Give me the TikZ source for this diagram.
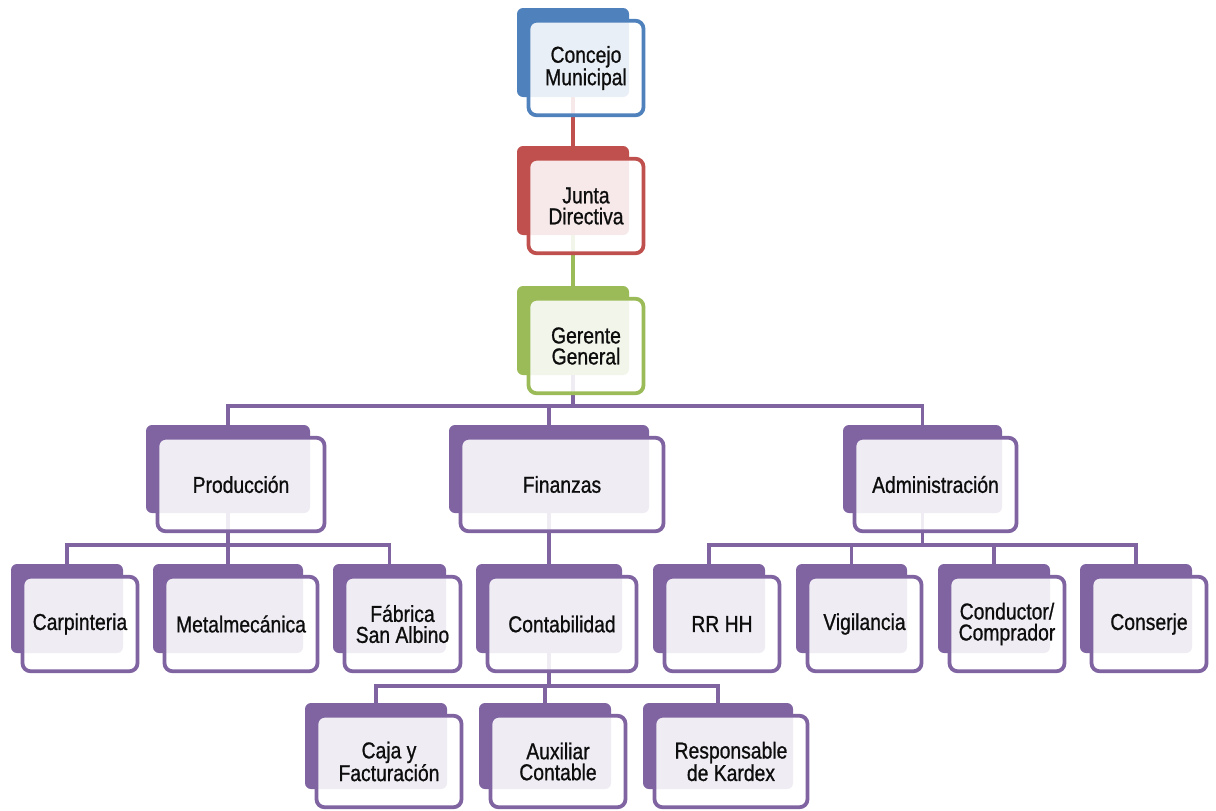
\documentclass[tikz,border=0pt]{standalone}
\usepackage{fontspec}
\setmainfont{Liberation Sans}[FakeStretch=0.84,FakeBold=0.9]
\usetikzlibrary{backgrounds}
\definecolor{cblue}{HTML}{4F81BD}
\definecolor{cred}{HTML}{C0504D}
\definecolor{cgreen}{HTML}{9BBB59}
\definecolor{cpurple}{HTML}{8064A2}
\definecolor{textcol}{HTML}{0D0D0D}
\tikzset{
  backbox/.style={rectangle, rounded corners=6pt, inner sep=0pt, outer sep=0pt},
  frontbox/.style={rectangle, rounded corners=8pt, line width=3.8pt, fill=white,
    fill opacity=0.88, text opacity=1, inner sep=0pt, outer sep=0pt, align=center,
    font=\fontsize{23}{21}\selectfont, text=textcol},
  conn/.style={line width=3.5pt},
}
\newcommand\orgbox[7]{%
  \node[backbox, fill=#6, minimum width={(#4-#2)*1pt}, minimum height={(#5-#3)*1pt}]
    (#1) at ({(#2+#4)/2},{(#3+#5)/2}) {};
  \node[frontbox, draw=#6, minimum width={(#4-#2+3)*1pt}, minimum height={(#5-#3+5.5)*1pt}]
    (#1-f) at ({(#2+#4)/2+13},{(#3+#5)/2+15.5}) {#7};
}
\begin{document}
\begin{tikzpicture}[x=1pt,y=-1pt]
\useasboundingbox (0,0) rectangle (1216,811);
% level 1
\orgbox{concejo}{517}{8}{629}{97}{cblue}{Concejo\\Municipal}
\orgbox{junta}{517}{146}{629}{235}{cred}{Junta\\Directiva}
\orgbox{gerente}{517}{286}{629}{375}{cgreen}{Gerente\\General}
% level 2
\orgbox{prod}{146}{425}{310}{513}{cpurple}{Producción}
\orgbox{fin}{449}{425}{649}{513}{cpurple}{Finanzas}
\orgbox{adm}{843}{425}{1002}{513}{cpurple}{Administración}
% level 3
\orgbox{carp}{11}{564}{123}{653}{cpurple}{Carpinteria}
\orgbox{metal}{153}{564}{303}{653}{cpurple}{Metalmecánica}
\orgbox{fab}{333}{564}{446}{653}{cpurple}{Fábrica\\San Albino}
\orgbox{cont}{476}{564}{622}{653}{cpurple}{Contabilidad}
\orgbox{rrhh}{653}{564}{765}{653}{cpurple}{RR HH}
\orgbox{vig}{796}{564}{907}{653}{cpurple}{Vigilancia}
\orgbox{cond}{938}{564}{1050}{653}{cpurple}{Conductor/\\Comprador}
\orgbox{cons}{1080}{564}{1192}{653}{cpurple}{Conserje}
% level 4
\orgbox{caja}{305}{703}{447}{789}{cpurple}{Caja y\\Facturación}
\orgbox{aux}{479}{703}{611}{789}{cpurple}{Auxiliar\\Contable}
\orgbox{resp}{643}{703}{793}{789}{cpurple}{Responsable\\de Kardex}
\coordinate (barA) at (0,406);
\coordinate (barB) at (0,545);
\coordinate (barC) at (0,686);
\begin{scope}[on background layer]
  \fill[white] (0,0) rectangle (1216,811);
  \draw[conn, cred] (concejo.center) -- (junta.center);
  \draw[conn, cgreen] (junta.center) -- (gerente.center);
  \begin{scope}[conn, cpurple]
    \foreach \c in {prod,fin,adm}
      \draw (gerente.center) -- (gerente.center |- barA) -| (\c.center);
    \foreach \c in {carp,metal,fab}
      \draw (prod.center) -- (prod.center |- barB) -| (\c.center);
    \draw (fin.center) -- (cont.center);
    \foreach \c in {rrhh,vig,cond,cons}
      \draw (adm.center) -- (adm.center |- barB) -| (\c.center);
    \foreach \c in {caja,aux,resp}
      \draw (cont.center) -- (cont.center |- barC) -| (\c.center);
  \end{scope}
\end{scope}
\end{tikzpicture}
\end{document}
